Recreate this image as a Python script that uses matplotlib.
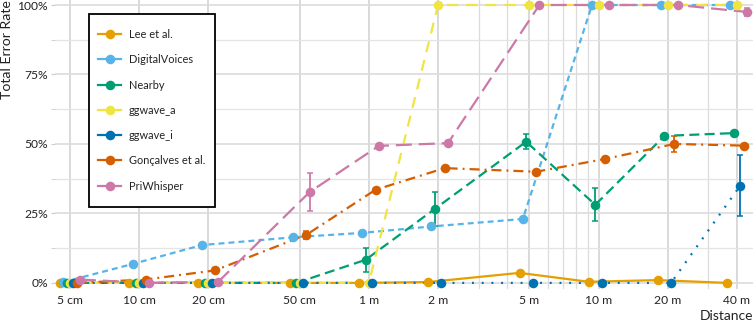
import numpy as np
import matplotlib
matplotlib.use("Agg")
import matplotlib.pyplot as plt
from matplotlib.lines import Line2D
from matplotlib.patches import Rectangle

plt.rcParams['font.family'] = ['Lato', 'DejaVu Sans']
plt.rcParams['lines.scale_dashes'] = False

# distances in metres
distances = [0.05, 0.1, 0.2, 0.5, 1, 2, 5, 10, 20, 40]
tick_labels = ["5 cm", "10 cm", "20 cm", "50 cm", "1 m", "2 m", "5 m", "10 m", "20 m", "40 m"]

series_names = ["Lee et al.", "DigitalVoices", "Nearby", "ggwave_a", "ggwave_i",
                "Gonçalves et al.", "PriWhisper"]

lee = [0, 0, 0, 0, 0, 0.3, 3.6, 0.4, 1.0, 0]
lee_err = [0] * 10
digitalvoices = [0.3, 6.8, 13.6, 16.4, 18.0, 20.3, 23.0, 100, 100, 100]
digitalvoices_err = [0] * 10
nearby = [0, 0, 0, 0, 8.3, 26.6, 50.8, 28.1, 52.9, 53.9]
nearby_err = [0, 0, 0, 0, 4.3, 6.0, 2.7, 6.0, 0, 0]
ggwave_a = [0, 0, 0, 0, 0, 100, 100, 100, 100, 100]
ggwave_a_err = [0] * 10
ggwave_i = [0, 0, 0, 0, 0, 0, 0, 0, 0, 35.0]
ggwave_i_err = [0, 0, 0, 0, 0, 0, 0, 0, 0, 11.0]
goncalves = [0, 1.2, 4.5, 17.3, 33.5, 41.3, 40.0, 44.6, 50.0, 49.4]
goncalves_err = [0, 0, 0, 1.5, 0, 0, 0, 0, 3.0, 0]
priwhisper = [1.2, 0, 0.4, 32.7, 49.3, 50.3, 100, 100, 100, 97.5]
priwhisper_err = [0, 0, 0, 6.8, 0, 0, 0, 0, 0, 1.5]

values = [lee, digitalvoices, nearby, ggwave_a, ggwave_i, goncalves, priwhisper]
errors = [lee_err, digitalvoices_err, nearby_err, ggwave_a_err, ggwave_i_err,
          goncalves_err, priwhisper_err]

colors = ["#E69F00", "#56B4E9", "#009E73", "#F0E442", "#0072B2", "#D55E00", "#CC79A7"]
dashes = [(0, ()),
          (0, (4.3, 2.9)),
          (0, (7.2, 3.8)),
          (0, (8.0, 5.8)),
          (0, (1.4, 5.6)),
          (0, (7.2, 3.6, 1.4, 3.6)),
          (0, (11.5, 5.0))]

W, H = 753, 325
fig = plt.figure(figsize=(W / 100, H / 100), dpi=100)
ax = fig.add_axes([55 / W, 1 - 289 / H, 1 - 55 / W, 289 / H])

ax.set_xscale('log')
ax.set_xlim(0.0430, 47.0)
ax.set_ylim(-2.2, 101.8)

# grid
major_y = [0, 25, 50, 75, 100]
minor_y = [12.5, 37.5, 62.5, 87.5]
minor_x = [3, 4, 6, 7, 8, 9, 30]
ax.set_xticks(distances)
ax.set_xticklabels(tick_labels)
ax.set_xticks(minor_x, minor=True)
ax.set_xticklabels([], minor=True)
ax.set_yticks(major_y)
ax.set_yticklabels([f"{v}%" for v in major_y])
ax.set_yticks(minor_y, minor=True)
ax.grid(True, which='major', axis='x', color='#d3d3d3', linewidth=1.2, zorder=0)
ax.grid(True, which='minor', axis='x', color='#dcdcdc', linewidth=0.9, zorder=0)
ax.grid(True, which='major', axis='y', color='#dcdcdc', linewidth=1.2, zorder=0)
ax.grid(True, which='minor', axis='y', color='#e4e4e4', linewidth=0.9, zorder=0)
ax.set_axisbelow(True)
for s in ax.spines.values():
    s.set_visible(False)
ax.tick_params(axis='x', which='both', length=0, labelsize=8.7, colors='#222222', pad=4)
ax.tick_params(axis='y', which='both', length=3, color='#cccccc', labelsize=8.7,
               labelcolor='#222222', pad=2)

# dodge in log space
step = 0.0144
for i, (vals, c, ls) in enumerate(zip(values, colors, dashes)):
    xs = [d * 10 ** ((i - 3) * step) for d in distances]
    ax.plot(xs, vals, color=c, linewidth=1.6, linestyle=ls, zorder=2,
            solid_capstyle='butt', dash_capstyle='butt')
for i, (vals, errs, c) in enumerate(zip(values, errors, colors)):
    xs = np.array([d * 10 ** ((i - 3) * step) for d in distances])
    e = np.array(errs)
    m = e > 0
    if m.any():
        ax.errorbar(xs[m], np.array(vals)[m], yerr=e[m], fmt='none', ecolor=c,
                    elinewidth=1.3, capsize=2.5, capthick=1.1, zorder=3)
for i, (vals, c) in enumerate(zip(values, colors)):
    xs = [d * 10 ** ((i - 3) * step) for d in distances]
    ax.plot(xs, vals, linestyle='none', marker='o', markersize=6.9, color=c,
            markeredgewidth=0, zorder=4, clip_on=False)

ax.set_ylabel("Total Error Rate", fontsize=10.2, color='#222222', loc='top', labelpad=3)
ax.set_xlabel("Distance", fontsize=10, color='#222222', loc='right', labelpad=3.5)

# legend frame drawn as a rectangle, legend itself frameless
box = Rectangle((89 / W, 1 - 207 / H), (215 - 89) / W, (207 - 14) / H,
                transform=fig.transFigure, facecolor='white', edgecolor='black',
                linewidth=1.3, zorder=10)
fig.add_artist(box)

handles = [Line2D([0], [0], color=c, linewidth=1.6, marker='o', markersize=6.9,
                  markeredgewidth=0) for c in colors]
leg = fig.legend(handles, series_names, loc='upper left',
                 bbox_to_anchor=(98 / W, 1 - 29 / H), bbox_transform=fig.transFigure,
                 frameon=False, fontsize=7.9, labelspacing=1.3, handlelength=2.1,
                 handletextpad=0.7, borderpad=0, borderaxespad=0)
leg.set_zorder(11)
for t in leg.get_texts():
    t.set_color('#222222')

fig.savefig("out.png", dpi=100)
